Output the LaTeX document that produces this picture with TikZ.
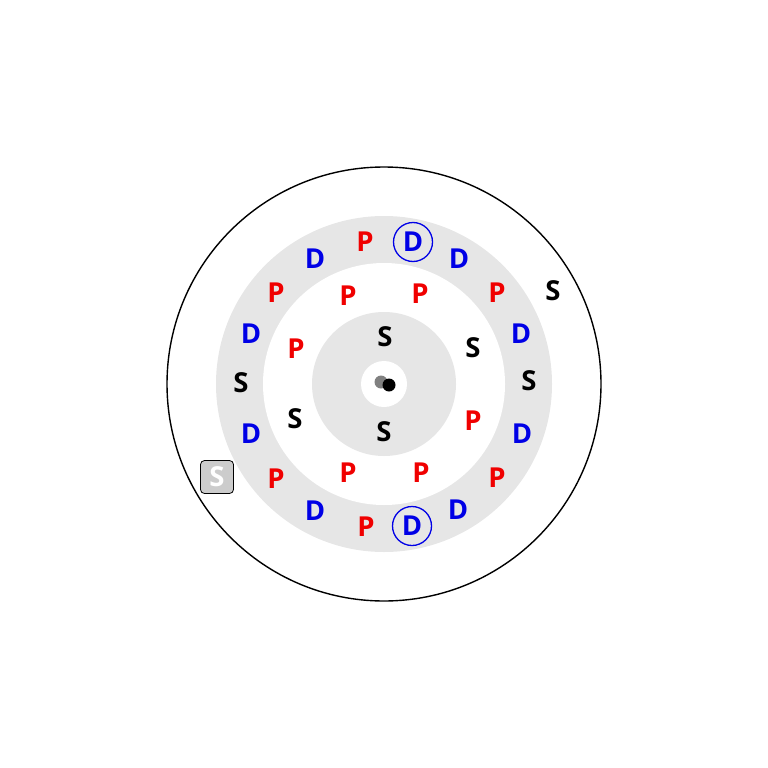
\documentclass[tikz,border=0pt]{standalone}
\usepackage{fontspec}
\setmainfont{Open Sans}
\begin{document}
\begin{tikzpicture}[x=1pt,y=-1pt,
  lbl/.style={font=\fontsize{27.5}{27.5}\selectfont\bfseries, inner sep=0pt},
  pl/.style={lbl, text={rgb,255:red,240;green,0;blue,0}},
  dl/.style={lbl, text={rgb,255:red,0;green,0;blue,230}},
  sl/.style={lbl, text=black},
  ring/.style={draw={rgb,255:red,0;green,0;blue,230}, line width=1.3pt, circle, minimum size=39pt}
]
\definecolor{ringgray}{RGB}{230,230,230}
\useasboundingbox (0,0) rectangle (768,768);
\coordinate (c) at (384,384);
% outer circle
\draw[line width=1.4pt] (c) circle[radius=217];
% gray annulus
\fill[ringgray] (c) circle[radius=168];
\fill[white] (c) circle[radius=121];
\fill[ringgray] (c) circle[radius=72];
\fill[white] (c) circle[radius=23];
% dots
\node[circle, fill={rgb,255:red,128;green,128;blue,128}, minimum size=13pt, inner sep=0pt] (g) at (381,382) {};
\node[circle, fill=black, minimum size=13pt, inner sep=0pt] (b) at (389,385) {};
% outer ring labels
\node[pl] (o1) at (365,242) {P};
\node[dl] (o2) at (413,242) {D};
\node[ring] (r1) at (413,242) {};
\node[dl] (o3) at (459,259) {D};
\node[pl] (o4) at (497,293) {P};
\node[dl] (o5) at (521,334) {D};
\node[sl] (o6) at (529,381) {S};
\node[dl] (o7) at (522,434) {D};
\node[pl] (o8) at (497,478) {P};
\node[dl] (o9) at (458,510) {D};
\node[dl] (o10) at (412,526) {D};
\node[ring] (r2) at (412,526) {};
\node[pl] (o11) at (366,527) {P};
\node[dl] (o12) at (315,511) {D};
\node[pl] (o13) at (276,479) {P};
\node[dl] (o14) at (251,434) {D};
\node[sl] (o15) at (241,383) {S};
\node[dl] (o16) at (251,334) {D};
\node[pl] (o17) at (276,293) {P};
\node[dl] (o18) at (315,259) {D};
% outside S
\node[sl] (x1) at (553,291) {S};
% boxed S
\node[lbl, text=white, draw=black, fill={rgb,255:red,204;green,204;blue,204}, rounded corners=4pt, line width=0.8pt, minimum width=33pt, minimum height=33pt] (bx) at (217,477) {S};
% inner ring labels
\node[pl] (i1) at (348,296) {P};
\node[pl] (i2) at (420,294) {P};
\node[sl] (i3) at (473,348) {S};
\node[pl] (i4) at (473,421) {P};
\node[pl] (i5) at (421,473) {P};
\node[pl] (i6) at (348,473) {P};
\node[sl] (i7) at (295,419) {S};
\node[pl] (i8) at (296,349) {P};
% center disk labels
\node[sl] (c1) at (385,337) {S};
\node[sl] (c2) at (384,432) {S};
\end{tikzpicture}
\end{document}
